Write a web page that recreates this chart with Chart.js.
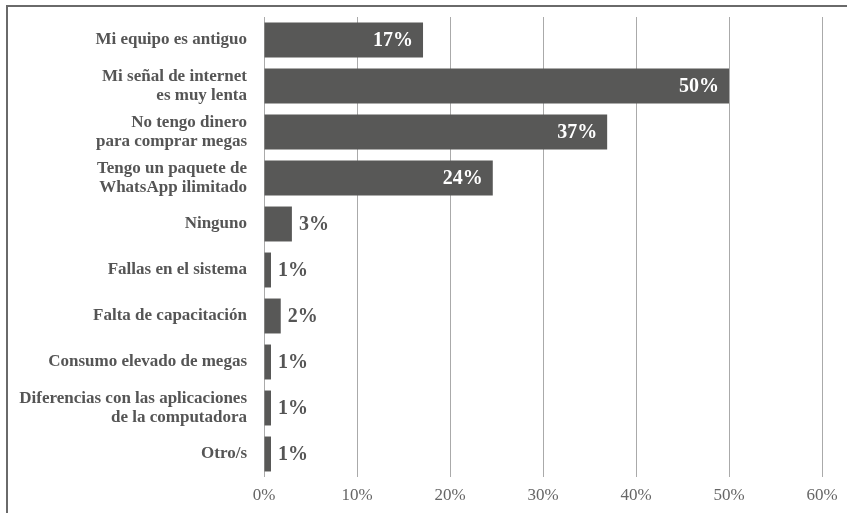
<!DOCTYPE html>
<html>
<head>
<meta charset="utf-8">
<script src="https://cdn.jsdelivr.net/npm/chart.js@4"></script>
<style>
  html, body { margin: 0; padding: 0; background: #fff; }
  #wrap { position: relative; width: 847px; height: 513px; overflow: hidden; }
  #frame {
    position: absolute; left: 6px; top: 5px; width: 850px; height: 520px;
    border-top: 2px solid #6a6a6a; border-left: 2px solid #6a6a6a;
    z-index: 2; pointer-events: none;
  }
  canvas { position: absolute; left: 0; top: 0; z-index: 1; }
</style>
</head>
<body>
<div id="wrap">
  <div id="frame"></div>
  <canvas id="myChart" width="847" height="513"></canvas>
</div>
<script>
'use strict'

// Data

let categories = [
  'Mi equipo es antiguo',
  ['Mi señal de internet', 'es muy lenta'],
  ['No tengo dinero', 'para comprar megas'],
  ['Tengo un paquete de', 'WhatsApp ilimitado'],
  'Ninguno',
  'Fallas en el sistema',
  'Falta de capacitación',
  'Consumo elevado de megas',
  ['Diferencias con las aplicaciones', 'de la computadora'],
  'Otro/s'
];
let values = [17.1, 50, 36.9, 24.6, 3, 0.75, 1.8, 0.75, 0.75, 0.75];
let valueLabels = ['17%', '50%', '37%', '24%', '3%', '1%', '2%', '1%', '1%', '1%'];
let xTicks = [0, 10, 20, 30, 40, 50, 60];

let barColor = '#585857';
let textColor = '#555555';

// draws the % labels next to / inside each bar
const barLabels = {
  id: 'barLabels',
  afterDatasetsDraw(chart) {
    const ctx = chart.ctx;
    const meta = chart.getDatasetMeta(0);
    ctx.save();
    ctx.font = 'bold 20px "Liberation Serif", serif';
    ctx.textBaseline = 'middle';
    meta.data.forEach(function (bar, i) {
      if (values[i] >= 10) {
        ctx.fillStyle = '#ffffff';
        ctx.textAlign = 'right';
        ctx.fillText(valueLabels[i], bar.x - 10, bar.y + 1);
      } else {
        ctx.fillStyle = textColor;
        ctx.textAlign = 'left';
        ctx.fillText(valueLabels[i], bar.x + 7, bar.y + 1);
      }
    });
    ctx.restore();
  }
};

const data = {
  labels: categories,
  datasets: [{
    data: values,
    backgroundColor: barColor,
    borderWidth: 0,
    categoryPercentage: 1,
    barPercentage: 0.76
  }]
};

const config = {
  type: 'bar',
  data: data,
  options: {
    indexAxis: 'y',
    responsive: false,
    animation: false,
    layout: {
      padding: { top: 17, right: 25, left: 0, bottom: 0 }
    },
    plugins: {
      legend: { display: false },
      tooltip: { enabled: false }
    },
    scales: {
      x: {
        min: 0,
        max: 60,
        afterBuildTicks: function (scale) {
          scale.ticks = xTicks.map(function (v) { return { value: v }; });
        },
        afterFit: function (scale) { scale.height = 36; },
        grid: {
          color: '#aaaaaa',
          lineWidth: 1,
          drawTicks: false
        },
        border: { display: false },
        ticks: {
          padding: 8,
          color: '#666666',
          font: { family: '"Liberation Serif", serif', size: 17 },
          callback: function (v) { return v + '%'; }
        }
      },
      y: {
        afterFit: function (scale) {
          scale.width = 264;
          scale.paddingTop = 0;
          scale.paddingBottom = 0;
        },
        grid: { display: false, drawTicks: false },
        border: { display: false },
        ticks: {
          padding: 17,
          color: textColor,
          font: { family: '"Liberation Serif", serif', size: 17, weight: 'bold', lineHeight: 1.15 }
        }
      }
    }
  },
  plugins: [barLabels]
};

const myChart = new Chart(document.getElementById('myChart'), config);
</script>
</body>
</html>
